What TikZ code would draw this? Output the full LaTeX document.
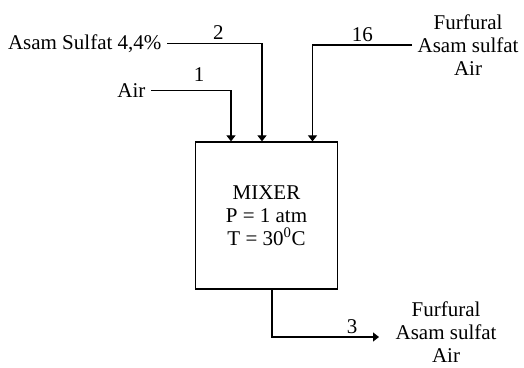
\documentclass[tikz,border=0pt]{standalone}
\usepackage{fontspec}
\setmainfont{Liberation Serif}
\usetikzlibrary{positioning,arrows.meta}

\begin{document}
\begin{tikzpicture}[x=1pt, y=1pt, line width=1.2pt, font=\fontsize{21}{23}\selectfont,
    arr/.style={-{Triangle[width=9pt,length=6pt]}},
    lbl/.style={inner xsep=5pt, inner ysep=2pt, align=center},
    num/.style={above, inner sep=3pt}]
    \useasboundingbox (0,0) rectangle (524,367);

    % mixer
    \node (mixer) [draw, minimum width=142pt, minimum height=147pt, align=center] at (266.5,151.5) {MIXER\\P = 1 atm\\T = 30\textsuperscript{0}C};
    \coordinate (in1) at ([xshift=-35.5pt]mixer.north);
    \coordinate (in2) at ([xshift=-4.5pt]mixer.north);
    \coordinate (in3) at ([xshift=46pt]mixer.north);
    \coordinate (out1) at ([xshift=5.5pt]mixer.south);

    % aliran masuk
    \node (air) [lbl, anchor=east] at (151,276.5) {Air};
    \node (asam) [lbl, anchor=east] at (167,323.7) {Asam Sulfat 4,4\%};
    \node (recycle) [lbl, anchor=west] at (412,322) {Furfural\\Asam sulfat\\Air};
    \draw[arr] (air.east) -| node[num, pos=0.3, yshift=5pt] {1} (in1);
    \draw[arr] (asam.east) -| node[num, pos=0.27] {2} (in2);
    \draw[arr] (recycle.west) -| node[num, pos=0.25] {16} (in3);

    % aliran keluar
    \node (produk) [lbl, anchor=west] at (390,35) {Furfural\\Asam sulfat\\Air};
    \coordinate (out2) at ([yshift=-5pt]produk.west);
    \draw[arr, shorten >=11pt] (out1) |- node[num, pos=0.84] {3} (out2);
\end{tikzpicture}
\end{document}
